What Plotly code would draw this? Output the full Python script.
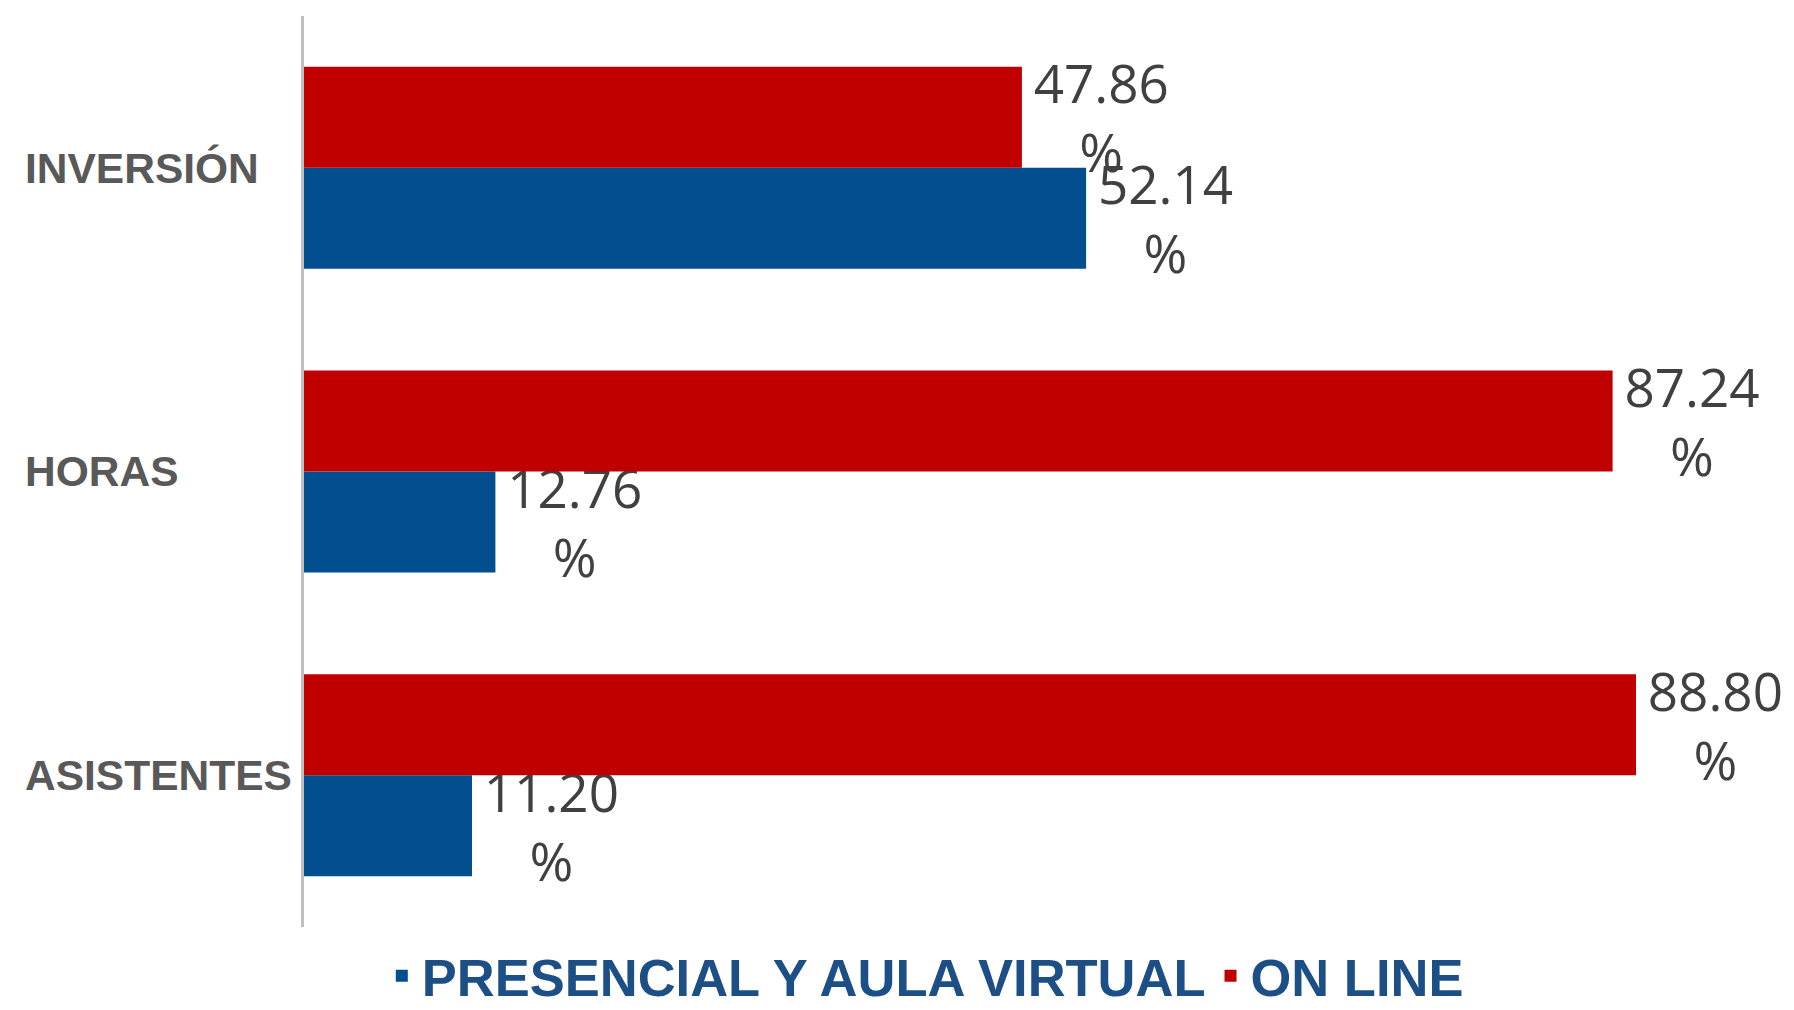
import plotly.graph_objects as go

categories = ["ASISTENTES", "HORAS", "INVERSIÓN"]
presencial = [11.20, 12.76, 52.14]
online = [88.80, 87.24, 47.86]
series_names = ["PRESENCIAL Y AULA VIRTUAL", "ON LINE"]

BLUE = "#034e8f"
RED = "#c00000"
PAD = "\u2009"

def labels(vals):
    return [f"{PAD}{v:.2f}<br>{PAD}%" for v in vals]

fig = go.Figure()
for name, vals, col in [(series_names[0], presencial, BLUE), (series_names[1], online, RED)]:
    fig.add_trace(go.Bar(
        y=categories, x=vals, name=f"<b>{name}</b>", orientation="h",
        marker=dict(color=col, line=dict(width=0)),
        text=labels(vals), textposition="outside", constraintext="none",
        cliponaxis=False,
        textfont=dict(family="Open Sans", size=53, color="#404040"),
        hoverinfo="skip",
    ))

for c in categories:
    fig.add_annotation(
        x=-0.197, xref="paper", y=c, yref="y", text=f"<b>{c}</b>",
        showarrow=False, xanchor="left", yanchor="middle",
        font=dict(family="Liberation Sans, Arial", size=42.5, color="#595959"),
    )

fig.update_layout(
    width=1786, height=1002,
    margin=dict(l=296, r=65, t=8, b=83, autoexpand=False),
    paper_bgcolor="white", plot_bgcolor="white",
    barmode="group", bargap=0.335, bargroupgap=0,
    showlegend=True,
    legend=dict(
        orientation="h", x=0.436, xanchor="center", y=-0.054, yanchor="middle",
        font=dict(family="Liberation Sans, Arial", size=52.5, color="#1d4f87"),
        itemsizing="constant", itemwidth=30,
    ),
    xaxis=dict(range=[0, 95], showgrid=False, zeroline=False, showticklabels=False,
               showline=False, fixedrange=True),
    yaxis=dict(range=[-0.5, 2.5], showgrid=False, zeroline=False, showticklabels=False,
               showline=True, linecolor="#c0c0c0", linewidth=3, ticks=""),
)

fig.write_html("out.html")
